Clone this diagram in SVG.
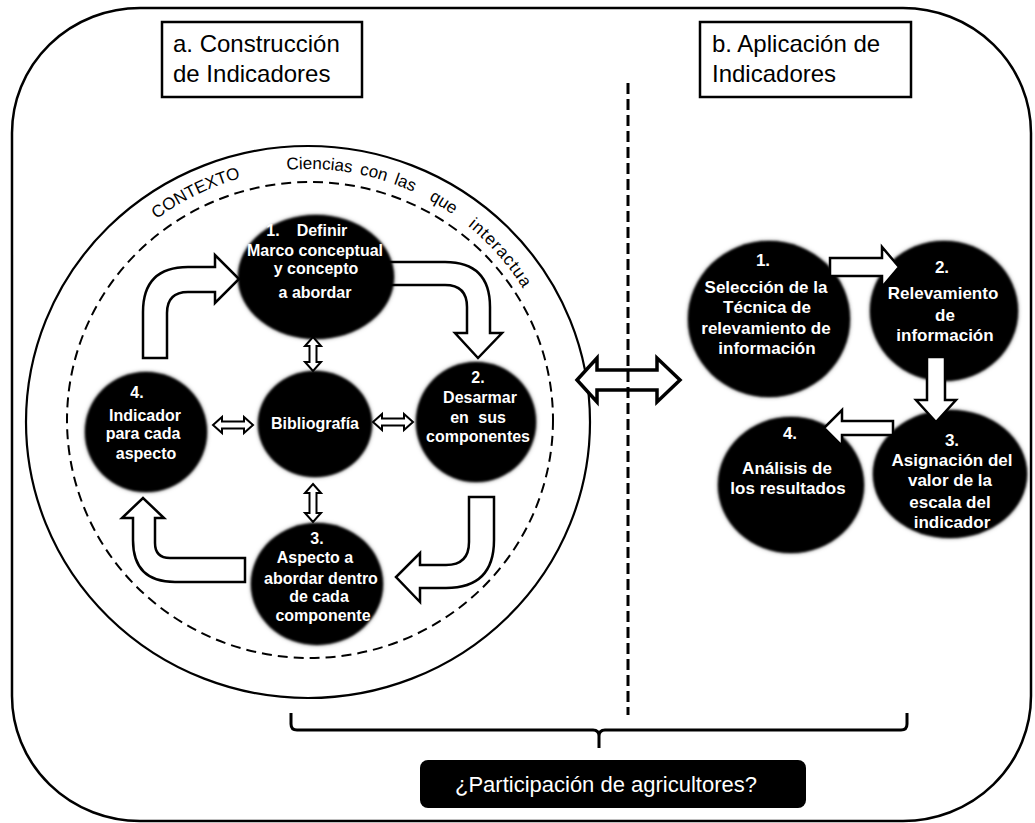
<svg xmlns="http://www.w3.org/2000/svg" width="1035" height="823" viewBox="0 0 1035 823">
<defs>
<style>
.frame{fill:#fff;stroke:#000;stroke-width:2.5}
.line{fill:none;stroke:#000;stroke-width:2.2}
.dash{fill:none;stroke:#000;stroke-width:2;stroke-dasharray:10 6}
.barr{fill:#fff;stroke:#000;stroke-width:2.5;stroke-linejoin:miter}
.sarr{fill:#fff;stroke:#000;stroke-width:2;stroke-linejoin:miter}
.node{fill:#000;filter:url(#soft)}
.nt{font-family:"Liberation Sans",Arial,sans-serif;font-weight:bold;fill:#fff;text-anchor:middle}
.l{font-size:16px}
.r{font-size:17px}
.title{font-family:"Liberation Sans",Arial,sans-serif;font-size:24px;fill:#000}
.ctx{font-family:"Liberation Sans",Arial,sans-serif;font-size:17px;fill:#000}
</style>
<filter id="soft" x="-10%" y="-10%" width="120%" height="120%">
<feGaussianBlur in="SourceAlpha" stdDeviation="2.2" result="b"/>
<feFlood flood-color="#000" flood-opacity="0.55"/>
<feComposite in2="b" operator="in" result="sh"/>
<feGaussianBlur in="SourceGraphic" stdDeviation="0.8" result="g"/>
<feMerge><feMergeNode in="sh"/><feMergeNode in="g"/></feMerge>
</filter>
<path id="arc" d="M55,422 A253,253 0 0 1 561,422"/>
</defs>

<rect class="frame" x="12" y="8" width="1019" height="813" rx="128" ry="125"/>

<g id="context">
<ellipse class="line" cx="308" cy="422" rx="282" ry="276"/>
<ellipse class="dash" cx="310" cy="420" rx="243" ry="238"/>
<text class="ctx"><textPath href="#arc" startOffset="235">CONTEXTO</textPath></text>
<text class="ctx" word-spacing="3"><textPath href="#arc" startOffset="376">Ciencias con las</textPath></text>
<text class="ctx"><textPath href="#arc" startOffset="523">que</textPath></text>
<text class="ctx" letter-spacing="1"><textPath href="#arc" startOffset="570">interactua</textPath></text>
</g>

<g id="connectors-left">
<path class="barr" d="M143,358 L143,312 Q143,267 188,267 L215,267 L215,255 L239,279 L215,303 L215,292 L188,292 Q167,292 167,313 L167,358 Z"/>
<path class="barr" d="M385,262 L445,262 Q490,262 490,307 L490,333 L502,333 L478,358 L455,333 L467,333 L467,307 Q467,285 445,285 L385,285 Z"/>
<path class="barr" d="M469,497 L494,497 L494,540 Q494,588 446,588 L420,588 L420,602 L396,577 L420,553 L420,565 L446,565 Q469,565 469,542 Z"/>
<path class="barr" d="M245,558 L170,558 Q155,558 155,543 L155,518 L164,518 L143,498 L122,518 L133,518 L133,540 Q133,582 175,582 L245,582 Z"/>
</g>

<g id="n1"><ellipse class="node" cx="316" cy="277" rx="78" ry="62"/>
<text class="nt l" x="273" y="236">1.</text>
<text class="nt l" x="322" y="236">Definir</text>
<text class="nt l" x="315" y="256">Marco conceptual</text>
<text class="nt l" x="316" y="274">y concepto</text>
<text class="nt l" x="315" y="298">a abordar</text></g>

<g id="bib"><ellipse class="node" cx="315" cy="424" rx="57" ry="53"/>
<text class="nt l" x="315" y="429">Bibliografía</text></g>

<g id="n4"><ellipse class="node" cx="146" cy="432" rx="61" ry="60"/>
<text class="nt l" x="137" y="398">4.</text>
<text class="nt l" x="145" y="421">Indicador</text>
<text class="nt l" x="143" y="439">para cada</text>
<text class="nt l" x="146" y="459">aspecto</text></g>

<g id="n2"><ellipse class="node" cx="476" cy="422" rx="60" ry="60"/>
<text class="nt l" x="478" y="383">2.</text>
<text class="nt l" x="480" y="403">Desarmar</text>
<text class="nt l" x="478" y="423" word-spacing="5">en sus</text>
<text class="nt l" x="478" y="442">componentes</text></g>

<g id="n3"><ellipse class="node" cx="317" cy="584" rx="66" ry="61"/>
<text class="nt l" x="317" y="544">3.</text>
<text class="nt l" x="315" y="563">Aspecto a</text>
<text class="nt l" x="321" y="584">abordar dentro</text>
<text class="nt l" x="319" y="602">de cada</text>
<text class="nt l" x="323" y="621">componente</text></g>

<g id="connectors-small">
<path class="sarr" d="M313,337 L321,346 L316.5,346 L316.5,362 L321,362 L313,371 L305,362 L309.5,362 L309.5,346 L305,346 Z"/>
<path class="sarr" d="M313,484 L321,493 L316.5,493 L316.5,513 L321,513 L313,522 L305,513 L309.5,513 L309.5,493 L305,493 Z"/>
<path class="sarr" d="M213,425 L222,417 L222,421.5 L244,421.5 L244,417 L253,425 L244,433 L244,428.5 L222,428.5 L222,433 Z"/>
<path class="sarr" d="M373,422 L382,414 L382,418.5 L404,418.5 L404,414 L413,422 L404,430 L404,425.5 L382,425.5 L382,430 Z"/>
<path class="barr" style="stroke-width:3.5" d="M577,380 L597,358 L597,370 L657,370 L657,358 L680,380 L657,402 L657,390 L597,390 L597,402 Z"/>
</g>

<line x1="628" y1="83" x2="628" y2="715" stroke="#000" stroke-width="3" stroke-dasharray="11 5"/>

<g id="r1"><ellipse class="node" cx="769" cy="319" rx="81" ry="78"/>
<text class="nt r" x="763" y="266">1.</text>
<text class="nt r" x="766" y="293">Selección de la</text>
<text class="nt r" x="767" y="313">Técnica de</text>
<text class="nt r" x="766" y="334">relevamiento de</text>
<text class="nt r" x="767" y="354">información</text></g>

<g id="r2"><ellipse class="node" cx="944" cy="311" rx="74" ry="70"/>
<text class="nt r" x="942" y="273">2.</text>
<text class="nt r" x="943" y="299">Relevamiento</text>
<text class="nt r" x="945" y="321">de</text>
<text class="nt r" x="945" y="341">información</text></g>

<g id="r3"><ellipse class="node" cx="950" cy="474" rx="77" ry="64"/>
<text class="nt r" x="952" y="446">3.</text>
<text class="nt r" x="952" y="466">Asignación del</text>
<text class="nt r" x="950" y="486">valor de la</text>
<text class="nt r" x="950" y="508">escala del</text>
<text class="nt r" x="952" y="528">indicador</text></g>

<g id="r4"><ellipse class="node" cx="791" cy="485" rx="73" ry="68"/>
<text class="nt r" x="790" y="439">4.</text>
<text class="nt r" x="787" y="474">Análisis de</text>
<text class="nt r" x="788" y="494">los resultados</text></g>

<g id="connectors-right">
<path class="barr" d="M830,258 L882,258 L882,247 L899,267 L882,287 L882,276 L830,276 Z"/>
<path class="barr" d="M927,357 L945,357 L945,400 L956,400 L936,422 L916,400 L927,400 Z"/>
<path class="barr" d="M893,421 L842,421 L842,410 L824,428 L842,446 L842,435 L893,435 Z"/>
</g>

<g id="title-a"><rect x="162" y="22" width="200" height="75" fill="#fff" stroke="#000" stroke-width="2.5"/>
<text class="title" x="173" y="52">a. Construcción</text>
<text class="title" x="173" y="82">de Indicadores</text></g>

<g id="title-b"><rect x="700" y="22" width="211" height="75" fill="#fff" stroke="#000" stroke-width="2.5"/>
<text class="title" x="712" y="52">b. Aplicación de</text>
<text class="title" x="712" y="82">Indicadores</text></g>

<g id="bracket">
<path fill="none" stroke="#000" stroke-width="3" d="M291,713 L291,724 Q291,730 297,730 L593,730 Q599,730 599,736 L599,748 M599,736 Q599,730 605,730 L901,730 Q907,730 907,724 L907,713"/>
</g>

<g id="participacion"><rect x="420" y="760" width="386" height="48" rx="8" fill="#000"/>
<text x="606" y="792" font-family="'Liberation Sans',Arial,sans-serif" font-size="22" fill="#fff" text-anchor="middle">¿Participación de agricultores?</text></g>
</svg>
